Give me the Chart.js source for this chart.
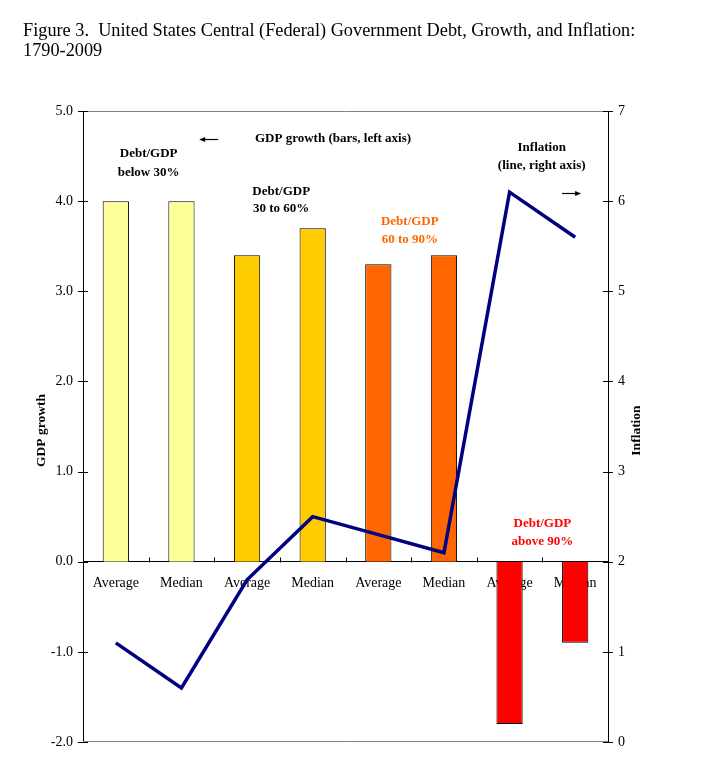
<!DOCTYPE html>
<html>
<head>
<meta charset="utf-8">
<script src="https://cdn.jsdelivr.net/npm/chart.js@4/dist/chart.umd.min.js"></script>
<style>
html,body{margin:0;padding:0;background:#fff;}
#wrap{width:702px;height:757px;position:relative;}
</style>
</head>
<body>
<div id="wrap"><canvas id="c" width="702" height="757"></canvas></div>
<script>
const categories = ["Average", "Median", "Average", "Median", "Average", "Median", "Average", "Median"];
const gdpGrowth = [4.0, 4.0, 3.4, 3.7, 3.3, 3.4, -1.8, -0.9];
const inflation = [1.1, 0.6, 1.8, 2.5, 2.3, 2.1, 6.1, 5.6];
const barColors = ["#FFFF99", "#FFFF99", "#FFCC00", "#FFCC00", "#FF6600", "#FF6600", "#FF0000", "#FF0000"];
const titleLines = ["Figure 3.  United States Central (Federal) Government Debt, Growth, and Inflation:", "1790-2009"];

// annotations: [lines, category position, left-axis value, color]
const notes = [
  [["Debt/GDP", "below 30%"], 0.5, [4.53, 4.32], "#000000"],
  [["Debt/GDP", "30 to 60%"], 2.52, [4.11, 3.92], "#000000"],
  [["Debt/GDP", "60 to 90%"], 4.48, [3.77, 3.57], "#FF6600"],
  [["Debt/GDP", "above 90%"], 6.5, [0.42, 0.22], "#FF0000"],
  [["GDP growth (bars, left axis)"], 3.31, [4.69], "#000000"],
  [["Inflation", "(line, right axis)"], 6.49, [4.59, 4.39], "#000000"]
];
// arrows: [from category position, to category position, left-axis value]
const arrows = [
  [1.56, 1.27, 4.69],
  [6.80, 7.09, 4.09]
];

Chart.defaults.font.family = "'Liberation Serif', 'Times New Roman', serif";
Chart.defaults.color = "#000";

const decor = {
  id: 'decor',
  afterDraw(chart) {
    const ctx = chart.ctx;
    const a = chart.chartArea;
    const x = chart.scales.x, y = chart.scales.y, y2 = chart.scales.y2;
    ctx.save();
    // top and bottom frame lines
    ctx.strokeStyle = '#808080';
    ctx.lineWidth = 1;
    ctx.beginPath();
    ctx.moveTo(a.left, Math.round(a.top) + 0.5); ctx.lineTo(a.right, Math.round(a.top) + 0.5);
    ctx.moveTo(a.left, Math.round(a.bottom) - 0.5); ctx.lineTo(a.right, Math.round(a.bottom) - 0.5);
    ctx.stroke();
    // axis tick marks
    ctx.strokeStyle = '#000';
    ctx.beginPath();
    y.ticks.forEach(t => {
      const py = Math.round(y.getPixelForValue(t.value)) + 0.5;
      ctx.moveTo(a.left - 5, py); ctx.lineTo(a.left + 5, py);
    });
    y2.ticks.forEach(t => {
      const py = Math.round(y2.getPixelForValue(t.value)) + 0.5;
      ctx.moveTo(a.right - 5, py); ctx.lineTo(a.right + 5, py);
    });
    const y0 = Math.round(y.getPixelForValue(0)) + 0.5;
    for (let i = 1; i < categories.length; i++) {
      const px = Math.round(x.getPixelForValue(i - 0.5)) + 0.5;
      ctx.moveTo(px, y0 - 5); ctx.lineTo(px, y0);
    }
    ctx.stroke();
    // arrows
    ctx.fillStyle = '#000';
    arrows.forEach(ar => {
      const x1 = x.getPixelForValue(ar[0]), x2 = x.getPixelForValue(ar[1]);
      const py = Math.round(y.getPixelForValue(ar[2])) + 0.5;
      const dir = x2 > x1 ? 1 : -1;
      ctx.beginPath();
      ctx.lineWidth = 1.2;
      ctx.moveTo(x1, py); ctx.lineTo(x2 - dir * 4, py);
      ctx.stroke();
      ctx.beginPath();
      ctx.moveTo(x2, py);
      ctx.lineTo(x2 - dir * 6, py - 2.5);
      ctx.lineTo(x2 - dir * 6, py + 2.5);
      ctx.closePath();
      ctx.fill();
    });
    // annotations
    ctx.textAlign = 'center';
    ctx.textBaseline = 'middle';
    notes.forEach(n => {
      const [lines, cx, vals, col] = n;
      ctx.fillStyle = col;
      ctx.font = "bold 13px 'Liberation Serif', serif";
      const px = x.getPixelForValue(cx);
      lines.forEach((ln, i) => {
        ctx.fillText(ln, px, y.getPixelForValue(vals[i]));
      });
    });
    // axis titles
    ctx.fillStyle = '#000';
    ctx.font = "bold 13.5px 'Liberation Serif', serif";
    const midY = (a.top + a.bottom) / 2 + 4;
    ctx.save();
    ctx.translate(a.left - 41, midY);
    ctx.rotate(-Math.PI / 2);
    ctx.fillText('GDP growth', 0, 0);
    ctx.restore();
    ctx.save();
    ctx.translate(a.right + 29, midY);
    ctx.rotate(-Math.PI / 2);
    ctx.fillText('Inflation', 0, 0);
    ctx.restore();
    ctx.restore();
  }
};

new Chart(document.getElementById('c'), {
  type: 'bar',
  data: {
    labels: categories,
    datasets: [
      {
        type: 'line',
        label: 'Inflation',
        data: inflation,
        yAxisID: 'y2',
        borderColor: '#000080',
        borderWidth: 3.5,
        pointRadius: 0,
        fill: false,
        tension: 0,
        order: 0
      },
      {
        type: 'bar',
        label: 'GDP growth',
        data: gdpGrowth,
        yAxisID: 'y',
        backgroundColor: barColors,
        borderColor: '#000',
        borderWidth: 1,
        barPercentage: 0.4,
        categoryPercentage: 1.0,
        order: 1
      }
    ]
  },
  options: {
    responsive: false,
    animation: false,
    events: [],
    layout: { padding: { left: 23, right: 0, top: 0, bottom: 15 } },
    plugins: {
      legend: { display: false },
      tooltip: { enabled: false },
      title: {
        display: true,
        text: titleLines,
        align: 'start',
        color: '#000',
        font: { size: 18.3, weight: 'normal', lineHeight: 20 / 18.3 },
        padding: { top: 21, bottom: 50 }
      }
    },
    scales: {
      x: {
        position: { y: 0 },
        offset: true,
        grid: { display: false },
        border: { display: true, color: '#000', width: 1 },
        ticks: { font: { size: 14 }, color: '#000', padding: 5, autoSkip: false, maxRotation: 0 }
      },
      y: {
        position: 'left',
        min: -2, max: 5,
        grid: { display: false },
        border: { display: true, color: '#000', width: 1 },
        ticks: { stepSize: 1, font: { size: 14 }, color: '#000', padding: 2, callback: v => Number(v).toFixed(1) },
        afterFit: s => { s.width = 60; }
      },
      y2: {
        position: 'right',
        min: 0, max: 7,
        grid: { display: false },
        border: { display: true, color: '#000', width: 1 },
        ticks: { stepSize: 1, font: { size: 14 }, color: '#000', padding: 2 },
        afterFit: s => { s.width = 94; }
      }
    }
  },
  plugins: [decor]
});
</script>
</body>
</html>
